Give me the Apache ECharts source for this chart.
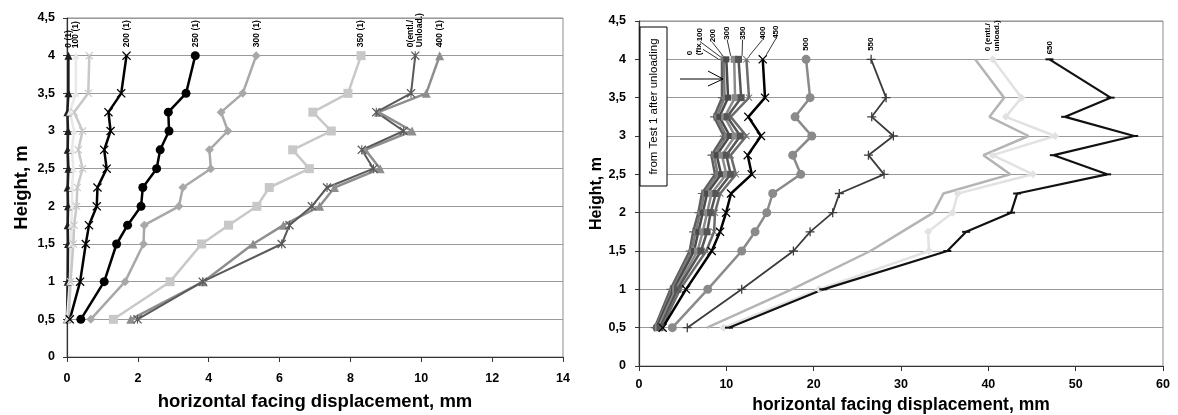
<!DOCTYPE html>
<html>
<head>
<meta charset="utf-8">
<script src="https://cdn.jsdelivr.net/npm/echarts/dist/echarts.min.js"></script>
<style>
  html, body { margin: 0; background: #fff; }
  #main { width: 1178px; height: 415px; }
</style>
</head>
<body>
<div id="main"></div>
<script>
// measured heights (same for every curve)
const heights = [0.5, 1, 1.5, 1.75, 2, 2.25, 2.5, 2.75, 3, 3.25, 3.5, 4];
const heightTickLabels = ['0', '0,5', '1', '1,5', '2', '2,5', '3', '3,5', '4', '4,5'];
const leftXTicks = ['0', '2', '4', '6', '8', '10', '12', '14'];
const rightXTicks = ['0', '10', '20', '30', '40', '50', '60'];

// test 1 (left) - displacement in mm for each height
const t1_0 = [0, 0.02, 0.03, 0.02, 0.03, 0.02, 0.04, 0.02, 0.03, 0.01, 0.04, 0.04];
const t1_100 = [0, 0.08, 0.12, 0.12, 0.15, 0.14, 0.18, 0.14, 0.2, 0.08, 0.25, 0.25];
const t1_150 = [0.05, 0.1, 0.18, 0.2, 0.27, 0.29, 0.44, 0.32, 0.44, 0.2, 0.6, 0.63];
const t1_200 = [0.08, 0.37, 0.53, 0.62, 0.84, 0.86, 1.12, 1.05, 1.23, 1.17, 1.53, 1.68];
const t1_250 = [0.39, 1.05, 1.40, 1.71, 2.09, 2.14, 2.53, 2.63, 2.88, 2.86, 3.36, 3.62];
const t1_300 = [0.67, 1.64, 2.16, 2.18, 3.16, 3.27, 4.06, 4.02, 4.54, 4.35, 4.96, 5.34];
const t1_350 = [1.31, 2.91, 3.80, 4.56, 5.36, 5.71, 6.84, 6.37, 7.46, 6.94, 7.93, 8.30];
const t1_400 = [1.80, 3.85, 5.25, 6.11, 7.13, 7.55, 8.84, 8.42, 9.74, 8.79, 10.14, 10.52];
const t1_unload = [1.99, 3.83, 6.06, 6.28, 6.91, 7.34, 8.65, 8.32, 9.50, 8.73, 9.71, 9.83];

// test 2 (right)
const t2_0 = [1.8, 3.6, 5.8, 6.2, 6.8, 7.2, 8.7, 8.3, 9.7, 8.6, 9.5, 9.5];
const t2_100 = [1.9, 3.8, 6.0, 6.5, 7.0, 7.5, 9.0, 8.6, 10.0, 8.9, 9.8, 9.7];
const t2_200 = [2.0, 4.0, 6.3, 6.8, 7.3, 7.8, 9.4, 8.9, 10.4, 9.2, 10.2, 10.0];
const t2_300 = [2.2, 4.2, 6.7, 7.3, 7.8, 8.3, 10.0, 9.5, 11.0, 9.8, 11.0, 10.9];
const t2_350 = [2.4, 4.4, 7.1, 7.8, 8.2, 8.8, 10.5, 10.0, 11.6, 10.1, 11.7, 11.4];
const t2_400 = [2.6, 4.7, 7.7, 8.6, 8.7, 9.3, 11.1, 10.5, 12.3, 10.5, 12.6, 12.3];
const t2_450 = [2.71, 5.38, 8.33, 9.28, 9.97, 10.54, 12.91, 12.45, 13.97, 12.52, 14.43, 14.17];
const t2_500 = [3.82, 7.87, 11.76, 13.29, 14.63, 15.31, 18.52, 17.6, 19.78, 17.87, 19.59, 19.13];
const t2_550 = [5.53, 11.76, 17.68, 19.59, 22.18, 22.94, 28.06, 26.27, 29.13, 26.65, 28.29, 26.58];
const t2_600 = [7.8, 17.5, 26.5, 30.09, 33.71, 34.86, 42.5, 39.44, 44.6, 40.13, 41.81, 38.49];
const t2_unload = [9.66, 20.6, 33.2, 33.1, 35.9, 36.5, 45.1, 40.5, 47.65, 42.0, 43.8, 40.5];
const t2_650 = [10.3, 21.1, 35.3, 37.46, 42.6, 43.3, 53.6, 47.5, 56.7, 48.8, 54.0, 47.0];

const FONT = '"Liberation Sans", Arial, sans-serif';
const X_SYM = 'path://M0,1L1,0L5,4L9,0L10,1L6,5L10,9L9,10L5,6L1,10L0,9L4,5Z';
const STAR_SYM = 'path://M0,1L1,0L5,4L9,0L10,1L6,5L10,9L9,10L5,6L1,10L0,9L4,5Z M4.4,0H5.6V10H4.4Z';
const PLUS_SYM = 'path://M4.3,0H5.7V4.3H10V5.7H5.7V10H4.3V5.7H0V4.3H4.3Z';

// labels are rotated 90deg, so the layout shift is given in screen px
// and turned into the label's own frame here
function shift(sx, sy) {
  return { dx: -sy, dy: sx };
}

function mk(name, xs, gi, color, symbol, size, width, lab) {
  const s = {
    name: name,
    type: 'line',
    xAxisIndex: gi,
    yAxisIndex: gi,
    clip: false,
    showAllSymbol: true,
    symbol: symbol,
    symbolSize: size,
    lineStyle: { color: color, width: width },
    itemStyle: { color: color },
    label: { show: false },
    data: xs.map(function (x, i) {
      if (lab && i === xs.length - 1) {
        return {
          value: [x, heights[i]],
          label: {
            show: true,
            formatter: lab.text,
            rotate: 90,
            position: 'top',
            align: 'left',
            verticalAlign: 'middle',
            distance: lab.distance != null ? lab.distance : 4,
            fontFamily: FONT,
            fontWeight: 'bold',
            fontSize: lab.size || 8.5,
            lineHeight: (lab.size || 8.5) + 1,
            color: '#000'
          }
        };
      }
      return [x, heights[i]];
    })
  };
  if (lab && lab.layout) {
    s.labelLayout = lab.layout;
    s.labelLine = { show: true, lineStyle: { color: '#000', width: 0.8 } };
  }
  return s;
}

const series = [
  // left
  mk('0 (1)', t1_0, 0, '#1e1e1e', 'triangle', 8, 2.5, { text: '0 (1)' }),
  mk('100 (1)', t1_100, 0, '#e8e8e8', 'triangle', 7, 2.5, { text: '100 (1)' }),
  mk('150 (1)', t1_150, 0, '#c8c8c8', X_SYM, 8, 2.5),
  mk('200 (1)', t1_200, 0, '#000', X_SYM, 9, 2.5, { text: '200 (1)' }),
  mk('250 (1)', t1_250, 0, '#000', 'circle', 9, 2.5, { text: '250 (1)' }),
  mk('300 (1)', t1_300, 0, '#a8a8a8', 'diamond', 9, 2.5, { text: '300 (1)' }),
  mk('350 (1)', t1_350, 0, '#c8c8c8', 'rect', 9, 2.5, { text: '350 (1)' }),
  mk('400 (1)', t1_400, 0, '#8e8e8e', 'triangle', 9, 2.5, { text: '400 (1)' }),
  mk('0(entl./Unload.)', t1_unload, 0, '#5a5a5a', STAR_SYM, 9, 2, { text: '0(entl./\nUnload.)' }),

  // right
  mk('0 (fix)', t2_0, 1, '#5e5e5e', PLUS_SYM, 8, 2.5, { text: '0\n(fix', size: 8, layout: shift(-28, 4) }),
  mk('100', t2_100, 1, '#7a7a7a', 'circle', 6, 2.5, { text: '100', size: 8, layout: shift(-24, -11) }),
  mk('200', t2_200, 1, '#4a4a4a', 'rect', 6, 2.5, { text: '200', size: 8, layout: shift(-14, -10) }),
  mk('300', t2_300, 1, '#8a8a8a', 'rect', 7, 2.5, { text: '300', size: 8, layout: shift(-7, -12) }),
  mk('350', t2_350, 1, '#555', 'rect', 7, 2.5, { text: '350', size: 8, layout: shift(4, -12) }),
  mk('400', t2_400, 1, '#6c6c6c', X_SYM, 7, 2.5, { text: '400', size: 8, layout: shift(16, -12) }),
  mk('450', t2_450, 1, '#000', X_SYM, 9, 2.5, { text: '450', size: 8, layout: shift(13, -12) }),
  mk('500', t2_500, 1, '#8a8a8a', 'circle', 9, 2.5, { text: '500', size: 8 }),
  mk('550', t2_550, 1, '#3c3c3c', PLUS_SYM, 9, 1.8, { text: '550', size: 8 }),
  mk('600', t2_600, 1, '#b4b4b4', 'none', 0, 2.5, { text: '600', size: 8 }),
  mk('0 (entl./ unload.)', t2_unload, 1, '#e2e2e2', 'diamond', 8, 2.5, { text: '0 (entl./\nunload.)', size: 8 }),
  mk('650', t2_650, 1, '#111', 'rect', [8, 2], 2.2, { text: '650', size: 8 })
];

function yAxis(gi, nameGap, nameSize, labelMargin) {
  return {
    gridIndex: gi,
    type: 'value',
    min: 0, max: 4.5, interval: 0.5,
    name: 'Height, m',
    nameLocation: 'middle',
    nameRotate: 90,
    nameGap: nameGap,
    nameTextStyle: { fontFamily: FONT, fontWeight: 'bold', fontSize: nameSize, color: '#000' },
    axisLine: { show: true, lineStyle: { color: '#333', width: 1.2 } },
    axisTick: { show: true, length: 4, lineStyle: { color: '#333' } },
    axisLabel: {
      margin: labelMargin,
      fontFamily: FONT, fontWeight: 'bold', fontSize: 12.5, color: '#000',
      formatter: function (v, i) { return heightTickLabels[i]; }
    },
    splitLine: { show: true, lineStyle: { color: '#9a9a9a', width: 1 } }
  };
}

function xAxis(gi, max, interval, ticks, nameGap, nameSize, labelMargin) {
  return {
    gridIndex: gi,
    type: 'value',
    min: 0, max: max, interval: interval,
    name: 'horizontal facing displacement, mm',
    nameLocation: 'middle',
    nameGap: nameGap,
    nameTextStyle: { fontFamily: FONT, fontWeight: 'bold', fontSize: nameSize, color: '#000' },
    axisLine: { show: true, lineStyle: { color: '#333', width: 1.2 } },
    axisTick: { show: true, length: 5, lineStyle: { color: '#333' } },
    axisLabel: {
      margin: labelMargin,
      fontFamily: FONT, fontWeight: 'bold', fontSize: 12.5, color: '#000',
      formatter: function (v, i) { return ticks[i]; }
    },
    splitLine: { show: false }
  };
}

const chart = echarts.init(document.getElementById('main'), null, { renderer: 'canvas' });
chart.setOption({
  animation: false,
  backgroundColor: '#fff',
  grid: [
    { left: 67, top: 18, width: 496, height: 339, show: true, borderColor: '#8c8c8c', borderWidth: 1, outerBoundsMode: 'none', containLabel: false },
    { left: 639, top: 21, width: 524, height: 345, show: true, borderColor: '#8c8c8c', borderWidth: 1, outerBoundsMode: 'none', containLabel: false }
  ],
  xAxis: [
    xAxis(0, 14, 2, leftXTicks, 35, 18.5, 15),
    xAxis(1, 60, 10, rightXTicks, 28, 17.5, 12)
  ],
  yAxis: [
    yAxis(0, 36, 18.5, 12),
    yAxis(1, 32, 16, 13)
  ],
  graphic: [
    { type: 'rect', shape: { x: 640, y: 27, width: 27, height: 159 }, style: { fill: '#fff', stroke: '#000', lineWidth: 1 }, z: 100 },
    { type: 'text', x: 653.5, y: 106.5, rotation: Math.PI / 2, z: 101,
      style: { text: 'from Test 1 after unloading', font: '11.5px "Liberation Sans", Arial, sans-serif', fill: '#000', align: 'center', verticalAlign: 'middle', textAlign: 'center', textVerticalAlign: 'middle' } },
    { type: 'polyline', shape: { points: [[680, 79], [723, 79]] }, style: { stroke: '#000', lineWidth: 1, fill: null }, z: 101 },
    { type: 'polyline', shape: { points: [[708, 71], [723, 79], [708, 86]] }, style: { stroke: '#000', lineWidth: 1, fill: null }, z: 101 }
  ],
  series: series
});
</script>
</body>
</html>
